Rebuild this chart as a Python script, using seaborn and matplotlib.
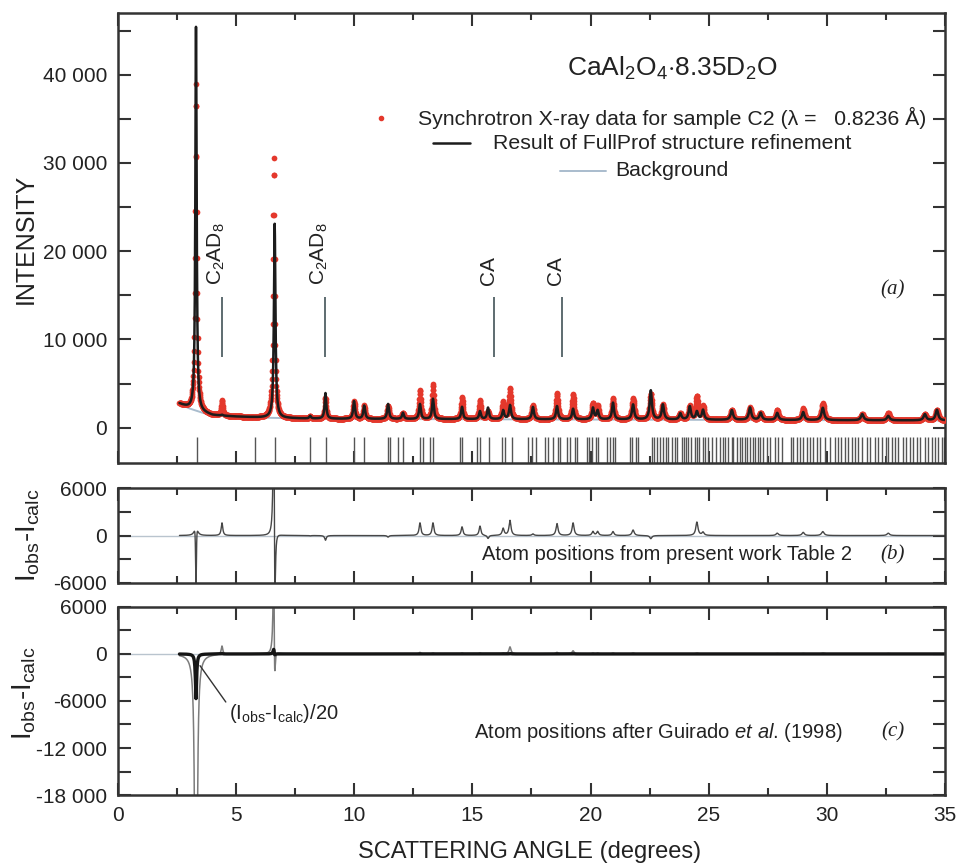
import numpy as np
import pandas as pd
import seaborn as sns
import matplotlib
matplotlib.use('Agg')
import matplotlib.pyplot as plt
from matplotlib.ticker import MultipleLocator

# picos: posicao (graus), alturas acima do fundo, largura
pico_pos = [3.30, 4.40, 6.63, 8.13, 8.78, 9.99, 10.42, 11.43, 12.06, 12.78,
            13.33, 14.56, 15.32, 15.66, 16.30, 16.59, 17.56, 18.58, 19.26, 20.10,
            20.30, 20.95, 21.80, 22.55, 23.06, 23.80, 24.20, 24.50, 24.76, 25.98,
            26.75, 27.20, 27.90, 29.00, 29.83, 31.50, 32.60, 34.15, 34.66]
pico_calc = [43500, 100, 22000, 300, 2900, 2000, 1500, 1700, 700, 1700,
             2300, 1400, 900, 1300, 1000, 1600, 1400, 1500, 1200, 1300,
             1000, 1900, 1700, 3300, 1700, 700, 1500, 900, 1100, 1100,
             1400, 800, 800, 900, 1400, 700, 500, 700, 1200]
pico_obs = [37000, 1700, 29500, 250, 2300, 2000, 1500, 1500, 700, 3300,
            3900, 2500, 2100, 900, 1900, 3500, 1600, 3000, 2800, 1800,
            1500, 2400, 2400, 2900, 1700, 700, 1500, 2600, 1500, 1100,
            1400, 800, 1100, 1300, 1900, 700, 800, 700, 1200]
pico_guirado = [151000, 600, 23000, 250, 2300, 2000, 1500, 1500, 700, 3100,
                3800, 2400, 2000, 900, 1800, 2600, 1600, 2800, 2400, 1700,
                1400, 2300, 2300, 2900, 1700, 700, 1500, 2500, 1500, 1100,
                1400, 800, 1050, 1250, 1800, 700, 750, 700, 1200]
pico_larg = [0.065, 0.08, 0.075, 0.08, 0.08, 0.09, 0.09, 0.09, 0.09, 0.09,
             0.09, 0.09, 0.09, 0.09, 0.10, 0.10, 0.10, 0.10, 0.10, 0.10,
             0.10, 0.10, 0.11, 0.11, 0.11, 0.11, 0.11, 0.11, 0.11, 0.12,
             0.12, 0.12, 0.12, 0.12, 0.13, 0.13, 0.13, 0.13, 0.13]
# desvios do observado (indice: (posicao, largura))
ajuste_obs = {0: (3.30, 0.075), 2: (6.60, 0.075)}
ajuste_guirado = {2: (6.615, 0.075)}

fundo_x = [2.6, 2.8, 3.0, 3.5, 4.0, 5.0, 6.0, 7.0, 8.0, 10.0, 15.0, 20.0, 25.0, 30.0, 35.0]
fundo_y = [2700, 2450, 2200, 1750, 1400, 1250, 1150, 1080, 1030, 990, 960, 930, 890, 850, 820]

# posicoes das reflexoes (tracos verticais)
reflexoes = [3.33, 5.80, 6.64, 8.13, 8.79, 9.99, 10.42, 11.43, 11.50, 11.85,
             12.06, 12.78, 12.90, 13.20, 13.33, 14.47, 14.56, 15.19, 15.32, 15.70,
             16.25, 16.38, 16.67, 17.35, 17.52, 17.69, 18.07, 18.20, 18.41, 18.62,
             18.71, 18.99, 19.13, 19.34, 19.41, 19.83, 19.95, 20.04, 20.23, 20.33,
             20.68, 20.82, 20.96, 21.03, 21.67, 21.74, 21.92, 22.02, 22.58, 22.70,
             22.82, 22.94, 23.08, 23.19, 23.29, 23.43, 23.57, 23.64, 23.85, 23.95,
             24.03, 24.13, 24.27, 24.42, 24.49, 24.60, 24.74, 24.84, 24.98, 25.12,
             25.33, 25.47, 25.59, 25.68, 25.83, 25.97, 26.04, 26.18, 26.32, 26.43,
             26.53, 26.64, 26.74, 26.86, 26.96, 27.07, 27.17, 27.31, 27.45, 27.59,
             27.81, 27.95, 28.09, 28.48, 28.58, 28.72, 28.86, 29.00, 29.14, 29.28,
             29.42, 29.57, 29.71, 29.92, 30.13, 30.34, 30.48, 30.62, 30.77, 30.91,
             31.05, 31.19, 31.33, 31.47, 31.68, 31.82, 32.04, 32.18, 32.32, 32.49,
             32.60, 32.74, 32.88, 33.02, 33.23, 33.37, 33.52, 33.66, 33.80, 33.94,
             34.15, 34.29, 34.43, 34.57, 34.72, 34.86, 34.98]

fases_pos = [4.40, 8.76, 15.93, 18.78]
fases_nome = [r'C$_2$AD$_8$', r'C$_2$AD$_8$', 'CA', 'CA']

rotulos_a = ['0', '', '10 000', '', '20 000', '', '30 000', '', '40 000', '']
rotulos_b = ['-6000', '', '0', '', '6000']
rotulos_c = ['-18 000', '', '-12 000', '', '-6000', '', '0', '', '6000']


def perfil(x, alturas, ajuste):
    y = np.zeros_like(x)
    for i, (p, h, w) in enumerate(zip(pico_pos, alturas, pico_larg)):
        if i in ajuste:
            p, w = ajuste[i]
        y += h / (1 + (2 * (x - p) / w) ** 2)
    return y


ang = np.arange(2.6, 35.0, 0.01)
fundo = np.interp(ang, fundo_x, fundo_y)
df = pd.DataFrame({'ang': ang, 'fundo': fundo})
df['obs'] = fundo + perfil(ang, pico_obs, ajuste_obs)
df['calc'] = fundo + perfil(ang, pico_calc, {})
df['guirado'] = fundo + perfil(ang, pico_guirado, ajuste_guirado)
df['dif_b'] = df['obs'] - df['calc']
df['dif_c'] = df['obs'] - df['guirado']
df['dif_c20'] = df['dif_c'] / 20

sns.set_theme(style='ticks')
plt.rcParams['font.family'] = ['Liberation Sans', 'DejaVu Sans']
plt.rcParams['mathtext.fontset'] = 'custom'
plt.rcParams['mathtext.rm'] = 'Liberation Sans'
plt.rcParams['mathtext.it'] = 'Liberation Sans:italic'

fig = plt.figure(figsize=(9.58, 8.67), dpi=100)
ax1 = fig.add_axes([0.1232, 0.466, 0.8632, 0.519])
ax2 = fig.add_axes([0.1232, 0.3276, 0.8632, 0.1094])
ax3 = fig.add_axes([0.1232, 0.083, 0.8632, 0.217])

# painel (a)
sns.lineplot(data=df, x='ang', y='fundo', ax=ax1, color='#a9bccd', lw=1.4)
sns.scatterplot(data=df, x='ang', y='obs', ax=ax1, color='#e4382c', s=17,
                linewidth=0, legend=False, zorder=3)
sns.lineplot(data=df, x='ang', y='calc', ax=ax1, color='#1c1c1c', lw=1.8, zorder=4)
ax1.vlines(reflexoes, -4000, -1000, color='#555555', lw=1)
for p, nome in zip(fases_pos, fases_nome):
    ax1.vlines(p, 8000, 14800, color='#5d6b70', lw=1.4)
    ax1.text(p - 0.25, 16200, nome, rotation=90, ha='center', va='bottom',
             fontsize=15, color='#222222')
ax1.set_ylim(-4000, 47000)
ax1.set_yticks(np.arange(0, 47000, 5000))
ax1.set_yticklabels(rotulos_a)

# legenda centrada, como no original
tr = ax1.transAxes
ax1.text(0.670, 0.878, r'CaAl$_2$O$_4$$\cdot$8.35D$_2$O', transform=tr,
         ha='center', va='center', fontsize=19, color='#222222')
ax1.plot([0.318], [0.767], 'o', color='#e4382c', ms=3, transform=tr)
ax1.text(0.670, 0.767, 'Synchrotron X-ray data for sample C2 (\u03bb =   0.8236 \u00c5)',
         transform=tr, ha='center', va='center', fontsize=15.3, color='#222222')
ax1.plot([0.381, 0.426], [0.711, 0.711], color='#1c1c1c', lw=1.8, transform=tr)
ax1.text(0.670, 0.711, 'Result of FullProf structure refinement', transform=tr,
         ha='center', va='center', fontsize=15.3, color='#222222')
ax1.plot([0.534, 0.590], [0.649, 0.649], color='#a9bccd', lw=1.4, transform=tr)
ax1.text(0.670, 0.649, 'Background', transform=tr,
         ha='center', va='center', fontsize=15.3, color='#222222')
ax1.text(0.937, 0.384, '(a)', transform=tr, ha='center', va='center',
         fontsize=15, family='Liberation Serif', style='italic', color='#222222')

# painel (b)
ax2.axhline(0, color='#b9c4ce', lw=1, zorder=0)
sns.lineplot(data=df, x='ang', y='dif_b', ax=ax2, color='#474747', lw=1)
ax2.set_ylim(-6000, 6000)
ax2.set_yticks(np.arange(-6000, 6001, 3000))
ax2.set_yticklabels(rotulos_b)
ax2.text(0.664, 0.295, 'Atom positions from present work Table 2',
         transform=ax2.transAxes, ha='center', va='center', fontsize=14.5, color='#222222')
ax2.text(0.937, 0.295, '(b)', transform=ax2.transAxes, ha='center', va='center',
         fontsize=15, family='Liberation Serif', style='italic', color='#222222')

# painel (c)
ax3.axhline(0, color='#b9c4ce', lw=1, zorder=0)
sns.lineplot(data=df, x='ang', y='dif_c', ax=ax3, color='#7c7c7c', lw=1.1)
sns.lineplot(data=df, x='ang', y='dif_c20', ax=ax3, color='#151515', lw=2.4)
ax3.set_ylim(-18000, 6000)
ax3.set_yticks(np.arange(-18000, 6001, 3000))
ax3.set_yticklabels(rotulos_c)
ax3.annotate(r'(I$_{\rm obs}$-I$_{\rm calc}$)/20', xy=(3.47, -1500), xytext=(4.7, -7600),
             ha='left', va='center', fontsize=14.5, color='#222222',
             arrowprops=dict(arrowstyle='-', color='#333333', lw=1, relpos=(0, 0.8),
                             shrinkA=0, shrinkB=0))
ax3.text(0.654, 0.335, r'Atom positions after Guirado $\it{et\ al}$. (1998)',
         transform=ax3.transAxes, ha='center', va='center', fontsize=14.5, color='#222222')
ax3.text(0.937, 0.335, '(c)', transform=ax3.transAxes, ha='center', va='center',
         fontsize=15, family='Liberation Serif', style='italic', color='#222222')

for ax in (ax1, ax2, ax3):
    ax.set_xlim(0, 35)
    ax.xaxis.set_major_locator(MultipleLocator(5))
    ax.xaxis.set_minor_locator(MultipleLocator(2.5))
    ax.tick_params(which='both', direction='in', top=True, right=True,
                   colors='#333333', labelcolor='#222222', labelsize=15, pad=8)
    ax.tick_params(which='major', length=9, width=1.5)
    ax.tick_params(which='minor', length=5, width=1.5)
    ax.set_xlabel('')
    ax.set_ylabel('')
    for s in ax.spines.values():
        s.set_color('#333333')
        s.set_linewidth(1.8)
ax1.tick_params(labelbottom=False)
ax2.tick_params(labelbottom=False)

fig.text(0.027, 0.725, 'INTENSITY', rotation=90, ha='center', va='center',
         fontsize=18, color='#222222')
fig.text(0.030, 0.383, r'I$_{\rm obs}$-I$_{\rm calc}$', rotation=90, ha='center',
         va='center', fontsize=20, color='#222222')
fig.text(0.025, 0.200, r'I$_{\rm obs}$-I$_{\rm calc}$', rotation=90, ha='center',
         va='center', fontsize=20, color='#222222')
fig.text(0.553, 0.017, 'SCATTERING ANGLE (degrees)', ha='center', va='center',
         fontsize=17, color='#222222')

fig.savefig('out.png', dpi=100)
